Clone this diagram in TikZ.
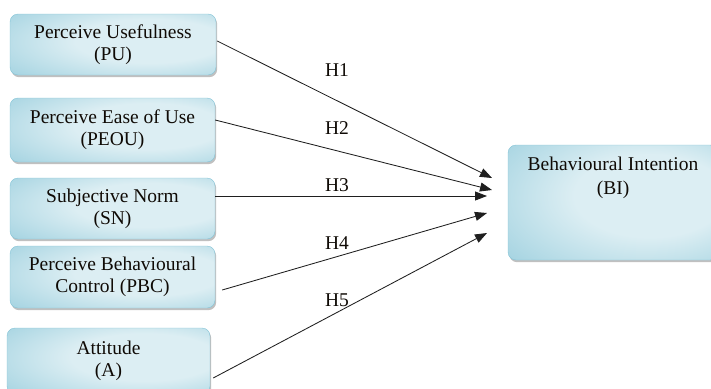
\documentclass[tikz,border=0pt]{standalone}
\usepackage{fontspec}
\setmainfont{Liberation Serif}
\newfontfamily\tnr{Liberation Serif}
\usetikzlibrary{arrows.meta,shadows}
\definecolor{boxdark}{RGB}{112,186,208}
\definecolor{boxlight}{RGB}{220,238,243}
\definecolor{txt}{RGB}{15,10,5}
\pgfdeclareradialshading{boxshade}{\pgfpoint{12bp}{4bp}}{%
  color(0bp)=(boxlight); color(18bp)=(boxlight); color(44bp)=(boxdark!60!boxlight); color(68bp)=(boxdark)}
\begin{document}
\begin{tikzpicture}[x=1pt,y=-1pt,
  box/.style={rounded corners=8pt, shading=boxshade, draw=boxdark!85!white, line width=0.4pt,
    drop shadow={shadow xshift=1.2pt, shadow yshift=-2.2pt, opacity=0.45, fill=black!55},
    align=center, inner sep=2pt, text=txt,
    font=\tnr\fontsize{19.5}{22}\selectfont},
  hlab/.style={text=txt, inner sep=1pt, font=\tnr\fontsize{19.5}{22}\selectfont},
  conn/.style={line width=0.85pt, draw=black!88, -{Triangle[length=12pt,width=9pt]}}]
\useasboundingbox (0,0) rectangle (711,388);
\node[box, minimum width=206pt, minimum height=61pt] (PU) at (113,44.5) {Perceive Usefulness\\(PU)};
\node[box, minimum width=205pt, minimum height=64pt] (PEOU) at (112.5,130) {Perceive Ease of Use\\(PEOU)};
\node[box, minimum width=205pt, minimum height=61pt] (SN) at (112.5,208.5) {Subjective Norm\\(SN)};
\node[box, minimum width=205pt, minimum height=62pt] (PBC) at (112.5,277) {Perceive Behavioural\\Control (PBC)};
\node[box, minimum width=203pt, minimum height=66pt] (A) at (108.5,361) {Attitude\\(A)};
\node[box, minimum width=210pt, minimum height=115pt] (BI) at (613,202.5) {};
\node[text=txt, align=center, anchor=north, inner sep=0pt,
  font=\tnr\fontsize{19.5}{24}\selectfont] (BItext) at (613,157) {Behavioural Intention\\(BI)};
\coordinate (e1) at (492,178);
\coordinate (e2) at (492,190);
\coordinate (e3) at (487,196);
\coordinate (e4) at (487,213);
\coordinate (e5) at (487,233);
\draw[conn] ([xshift=1pt,yshift=3.5pt]PU.east) -- (e1);
\draw[conn] ([yshift=10pt]PEOU.east) -- (e2);
\draw[conn] ([yshift=12.5pt]SN.east) -- (e3);
\draw[conn] ([xshift=7pt,yshift=-13pt]PBC.east) -- (e4);
\draw[conn] ([xshift=3pt,yshift=-17pt]A.east) -- (e5);
\node[hlab] (h1) at (337,70) {H1};
\node[hlab] (h2) at (337,128.5) {H2};
\node[hlab] (h3) at (337,185) {H3};
\node[hlab] (h4) at (337,243.5) {H4};
\node[hlab] (h5) at (337,300) {H5};
\end{tikzpicture}
\end{document}
